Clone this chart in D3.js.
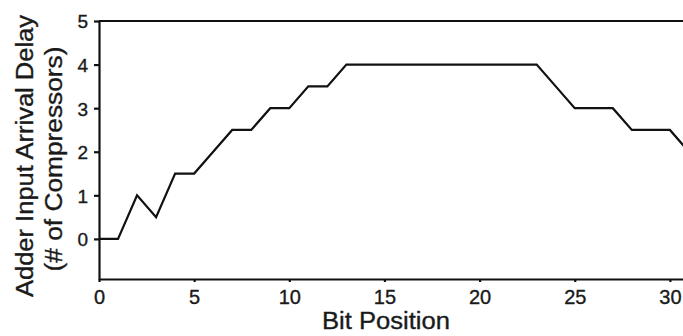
<!DOCTYPE html>
<html>
<head>
<meta charset="utf-8">
<script src="https://cdn.jsdelivr.net/npm/d3@7"></script>
<style>
  body { margin: 0; background: #fff; }
  text { font-family: "Liberation Sans", Arial, sans-serif; fill: #1a1a1a; stroke: #1a1a1a; stroke-width: 0.35px; }
  .axis path, .axis line { stroke: #111; }
</style>
</head>
<body>
<div id="chart"></div>
<script>
// bit positions and the delay at each one
var bits   = [0, 1, 2, 3,   4,   5,   6, 7,   8,   9, 10, 11,  12,  13, 14, 15, 16, 17, 18, 19, 20, 21, 22, 23, 24,  25, 26, 27, 28,  29,  30,  31];
var delays = [0, 0, 1, 0.5, 1.5, 1.5, 2, 2.5, 2.5, 3, 3,  3.5, 3.5, 4,  4,  4,  4,  4,  4,  4,  4,  4,  4,  4,  3.5, 3,  3,  3,  2.5, 2.5, 2.5, 2];
var xTicks = [0, 5, 10, 15, 20, 25, 30];
var yTicks = [0, 1, 2, 3, 4, 5];

var g = {};
g.fullWidth = 683;
g.fullHeight = 336;
g.margin = {top: 21, left: 99};

var svg = d3.select("#chart")
  .append("svg")
    .attr("width", g.fullWidth)
    .attr("height", g.fullHeight);

// x runs past the right edge, the frame is cut off there
g.x = d3.scaleLinear().domain([0, 32]).range([g.margin.left, g.margin.left + 32 * 19.03]);
g.y = d3.scaleLinear().domain([-0.92, 5]).range([279, g.margin.top]);

g.xAxis = d3.axisBottom(g.x).tickValues(xTicks).tickFormat(d3.format("d"))
  .tickSizeInner(3).tickSizeOuter(0).tickPadding(8);
g.yAxis = d3.axisLeft(g.y).tickValues(yTicks).tickFormat(d3.format("d"))
  .tickSizeInner(5).tickSizeOuter(0).tickPadding(6);

var xg = svg.append("g")
  .attr("class", "x axis")
  .attr("transform", "translate(0," + g.y(-0.92) + ")")
  .call(g.xAxis);
xg.selectAll("text").style("font-size", "20px").attr("dy", "0.70em");

var yg = svg.append("g")
  .attr("class", "y axis")
  .attr("transform", "translate(" + g.margin.left + ",0)")
  .call(g.yAxis);
yg.selectAll("text").style("font-size", "19px").attr("dy", "0.36em");

svg.selectAll(".axis path, .axis line").attr("stroke-width", 2.2);

// top frame line
svg.append("line")
  .attr("x1", g.x(0))
  .attr("x2", g.x(32))
  .attr("y1", g.y(5))
  .attr("y2", g.y(5))
  .attr("stroke", "#111")
  .attr("stroke-width", 2.2);

g.valueline = d3.line()
  .x(function(d, i) { return g.x(bits[i]); })
  .y(function(d) { return g.y(d); });

svg.append("path")
  .attr("class", "line")
  .attr("d", g.valueline(delays))
  .attr("fill", "none")
  .attr("stroke", "#111")
  .attr("stroke-width", 2.2);

// axis titles
svg.append("text")
  .attr("x", 386)
  .attr("y", 329)
  .attr("text-anchor", "middle")
  .attr("textLength", 128)
  .attr("lengthAdjust", "spacingAndGlyphs")
  .style("font-size", "23px")
  .text("Bit Position");

svg.append("text")
  .attr("transform", "translate(33,156) rotate(-90)")
  .attr("text-anchor", "middle")
  .attr("textLength", 282)
  .attr("lengthAdjust", "spacingAndGlyphs")
  .style("font-size", "23px")
  .text("Adder Input Arrival Delay");

svg.append("text")
  .attr("transform", "translate(62,159) rotate(-90)")
  .attr("text-anchor", "middle")
  .attr("textLength", 225)
  .attr("lengthAdjust", "spacingAndGlyphs")
  .style("font-size", "23px")
  .text("(# of Compressors)");
</script>
</body>
</html>
